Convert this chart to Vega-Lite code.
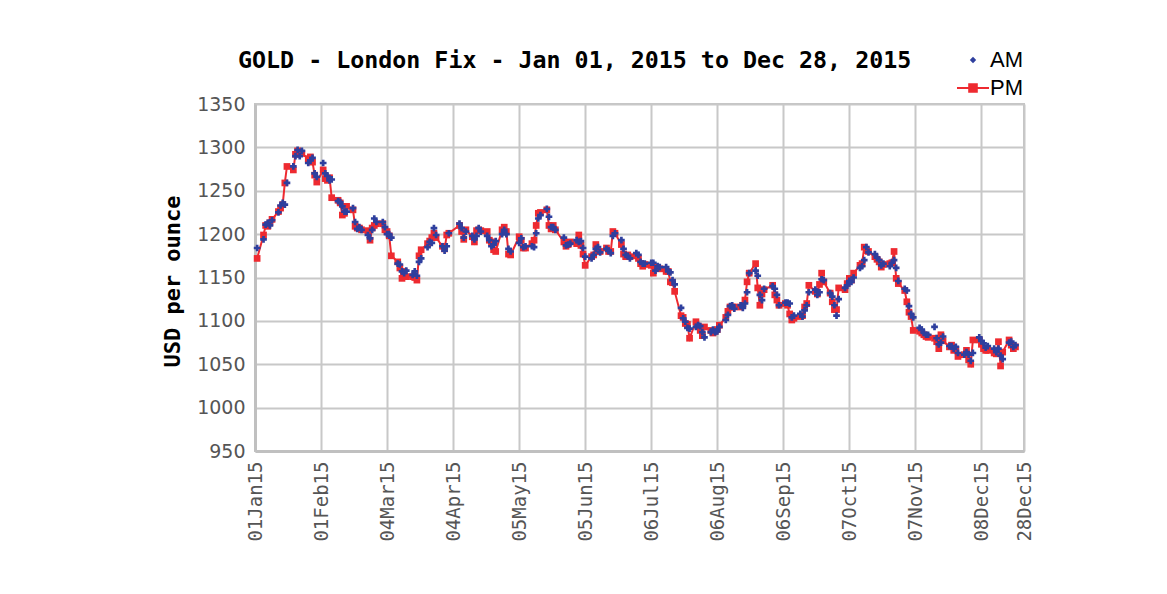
{
  "$schema": "https://vega.github.io/schema/vega-lite/v6.json",
  "width": 769,
  "height": 347,
  "autosize": {"type": "none"},
  "padding": {"left": 255, "top": 104, "right": 143, "bottom": 143},
  "background": "#ffffff",
  "title": {
    "text": "GOLD - London Fix - Jan 01, 2015 to Dec 28, 2015",
    "font": "DejaVu Sans Mono",
    "fontSize": 23.3,
    "fontWeight": "bold",
    "color": "#000000",
    "anchor": "start",
    "frame": "group",
    "dx": -17,
    "baseline": "alphabetic",
    "offset": -48
  },
  "config": {
    "view": {"stroke": "#c4c4c4", "strokeWidth": 2},
    "axis": {"gridColor": "#c8c8c8", "gridWidth": 2, "gridOpacity": 1, "domainColor": "#c0c0c0", "domainWidth": 3, "ticks": false}
  },
  "data": {
    "values": [
      {"date": "2015-01-02", "AM": 1184, "PM": 1172},
      {"date": "2015-01-05", "AM": 1194, "PM": 1199},
      {"date": "2015-01-06", "AM": 1211, "PM": 1210},
      {"date": "2015-01-07", "AM": 1213, "PM": 1209},
      {"date": "2015-01-08", "AM": 1210, "PM": 1213},
      {"date": "2015-01-09", "AM": 1216, "PM": 1217},
      {"date": "2015-01-12", "AM": 1225, "PM": 1226},
      {"date": "2015-01-13", "AM": 1233, "PM": 1230},
      {"date": "2015-01-14", "AM": 1236, "PM": 1234},
      {"date": "2015-01-15", "AM": 1234, "PM": 1259},
      {"date": "2015-01-16", "AM": 1259, "PM": 1278},
      {"date": "2015-01-19", "AM": 1278, "PM": 1274},
      {"date": "2015-01-20", "AM": 1290, "PM": 1292},
      {"date": "2015-01-21", "AM": 1297, "PM": 1296},
      {"date": "2015-01-22", "AM": 1290, "PM": 1295},
      {"date": "2015-01-23", "AM": 1296, "PM": 1293},
      {"date": "2015-01-26", "AM": 1282, "PM": 1287},
      {"date": "2015-01-27", "AM": 1285, "PM": 1289},
      {"date": "2015-01-28", "AM": 1288, "PM": 1283},
      {"date": "2015-01-29", "AM": 1270, "PM": 1268},
      {"date": "2015-01-30", "AM": 1266, "PM": 1260},
      {"date": "2015-02-02", "AM": 1282, "PM": 1274},
      {"date": "2015-02-03", "AM": 1270, "PM": 1264},
      {"date": "2015-02-04", "AM": 1267, "PM": 1262},
      {"date": "2015-02-05", "AM": 1262, "PM": 1265},
      {"date": "2015-02-06", "AM": 1263, "PM": 1242},
      {"date": "2015-02-09", "AM": 1238, "PM": 1239},
      {"date": "2015-02-10", "AM": 1237, "PM": 1236},
      {"date": "2015-02-11", "AM": 1232, "PM": 1222},
      {"date": "2015-02-12", "AM": 1226, "PM": 1224},
      {"date": "2015-02-13", "AM": 1226, "PM": 1232},
      {"date": "2015-02-16", "AM": 1230, "PM": 1228},
      {"date": "2015-02-17", "AM": 1214, "PM": 1209},
      {"date": "2015-02-18", "AM": 1206, "PM": 1207},
      {"date": "2015-02-19", "AM": 1208, "PM": 1207},
      {"date": "2015-02-20", "AM": 1205, "PM": 1205},
      {"date": "2015-02-23", "AM": 1199, "PM": 1204},
      {"date": "2015-02-24", "AM": 1195, "PM": 1193},
      {"date": "2015-02-25", "AM": 1205, "PM": 1207},
      {"date": "2015-02-26", "AM": 1218, "PM": 1210},
      {"date": "2015-02-27", "AM": 1214, "PM": 1212},
      {"date": "2015-03-02", "AM": 1214, "PM": 1212},
      {"date": "2015-03-03", "AM": 1208, "PM": 1205},
      {"date": "2015-03-04", "AM": 1200, "PM": 1203},
      {"date": "2015-03-05", "AM": 1200, "PM": 1198},
      {"date": "2015-03-06", "AM": 1196, "PM": 1175},
      {"date": "2015-03-09", "AM": 1166, "PM": 1168},
      {"date": "2015-03-10", "AM": 1165, "PM": 1161},
      {"date": "2015-03-11", "AM": 1157, "PM": 1149},
      {"date": "2015-03-12", "AM": 1155, "PM": 1157},
      {"date": "2015-03-13", "AM": 1158, "PM": 1151},
      {"date": "2015-03-16", "AM": 1153, "PM": 1151},
      {"date": "2015-03-17", "AM": 1157, "PM": 1150},
      {"date": "2015-03-18", "AM": 1152, "PM": 1147},
      {"date": "2015-03-19", "AM": 1168, "PM": 1175},
      {"date": "2015-03-20", "AM": 1172, "PM": 1182},
      {"date": "2015-03-23", "AM": 1185, "PM": 1189},
      {"date": "2015-03-24", "AM": 1191, "PM": 1192},
      {"date": "2015-03-25", "AM": 1190, "PM": 1196},
      {"date": "2015-03-26", "AM": 1207, "PM": 1201},
      {"date": "2015-03-27", "AM": 1199, "PM": 1196},
      {"date": "2015-03-30", "AM": 1186, "PM": 1186},
      {"date": "2015-03-31", "AM": 1181, "PM": 1183},
      {"date": "2015-04-01", "AM": 1186, "PM": 1199},
      {"date": "2015-04-02", "AM": 1201, "PM": 1201},
      {"date": "2015-04-07", "AM": 1212, "PM": 1210},
      {"date": "2015-04-08", "AM": 1207, "PM": 1203},
      {"date": "2015-04-09", "AM": 1196, "PM": 1194},
      {"date": "2015-04-10", "AM": 1203, "PM": 1205},
      {"date": "2015-04-13", "AM": 1198, "PM": 1197},
      {"date": "2015-04-14", "AM": 1194, "PM": 1191},
      {"date": "2015-04-15", "AM": 1198, "PM": 1204},
      {"date": "2015-04-16", "AM": 1207, "PM": 1205},
      {"date": "2015-04-17", "AM": 1203, "PM": 1204},
      {"date": "2015-04-20", "AM": 1198, "PM": 1203},
      {"date": "2015-04-21", "AM": 1193, "PM": 1193},
      {"date": "2015-04-22", "AM": 1186, "PM": 1191},
      {"date": "2015-04-23", "AM": 1188, "PM": 1182},
      {"date": "2015-04-24", "AM": 1192, "PM": 1180},
      {"date": "2015-04-27", "AM": 1200, "PM": 1205},
      {"date": "2015-04-28", "AM": 1205, "PM": 1208},
      {"date": "2015-04-29", "AM": 1200, "PM": 1203},
      {"date": "2015-04-30", "AM": 1183, "PM": 1177},
      {"date": "2015-05-01", "AM": 1180, "PM": 1176},
      {"date": "2015-05-05", "AM": 1190, "PM": 1197},
      {"date": "2015-05-06", "AM": 1195, "PM": 1193},
      {"date": "2015-05-07", "AM": 1185, "PM": 1184},
      {"date": "2015-05-08", "AM": 1186, "PM": 1184},
      {"date": "2015-05-11", "AM": 1186, "PM": 1189},
      {"date": "2015-05-12", "AM": 1185, "PM": 1193},
      {"date": "2015-05-13", "AM": 1201, "PM": 1210},
      {"date": "2015-05-14", "AM": 1218, "PM": 1224},
      {"date": "2015-05-15", "AM": 1222, "PM": 1225},
      {"date": "2015-05-18", "AM": 1229, "PM": 1228},
      {"date": "2015-05-19", "AM": 1220, "PM": 1210},
      {"date": "2015-05-20", "AM": 1208, "PM": 1206},
      {"date": "2015-05-21", "AM": 1208, "PM": 1210},
      {"date": "2015-05-22", "AM": 1205, "PM": 1205},
      {"date": "2015-05-26", "AM": 1196, "PM": 1191},
      {"date": "2015-05-27", "AM": 1187, "PM": 1186},
      {"date": "2015-05-28", "AM": 1188, "PM": 1188},
      {"date": "2015-05-29", "AM": 1189, "PM": 1191},
      {"date": "2015-06-01", "AM": 1193, "PM": 1189},
      {"date": "2015-06-02", "AM": 1191, "PM": 1199},
      {"date": "2015-06-03", "AM": 1192, "PM": 1187},
      {"date": "2015-06-04", "AM": 1184, "PM": 1177},
      {"date": "2015-06-05", "AM": 1174, "PM": 1164},
      {"date": "2015-06-08", "AM": 1172, "PM": 1174},
      {"date": "2015-06-09", "AM": 1176, "PM": 1176},
      {"date": "2015-06-10", "AM": 1183, "PM": 1188},
      {"date": "2015-06-11", "AM": 1185, "PM": 1180},
      {"date": "2015-06-12", "AM": 1179, "PM": 1180},
      {"date": "2015-06-15", "AM": 1183, "PM": 1184},
      {"date": "2015-06-16", "AM": 1181, "PM": 1180},
      {"date": "2015-06-17", "AM": 1178, "PM": 1180},
      {"date": "2015-06-18", "AM": 1198, "PM": 1203},
      {"date": "2015-06-19", "AM": 1201, "PM": 1201},
      {"date": "2015-06-22", "AM": 1193, "PM": 1188},
      {"date": "2015-06-23", "AM": 1183, "PM": 1177},
      {"date": "2015-06-24", "AM": 1176, "PM": 1174},
      {"date": "2015-06-25", "AM": 1175, "PM": 1176},
      {"date": "2015-06-26", "AM": 1172, "PM": 1174},
      {"date": "2015-06-29", "AM": 1178, "PM": 1175},
      {"date": "2015-06-30", "AM": 1176, "PM": 1172},
      {"date": "2015-07-01", "AM": 1168, "PM": 1166},
      {"date": "2015-07-02", "AM": 1166, "PM": 1163},
      {"date": "2015-07-03", "AM": 1166, "PM": 1165},
      {"date": "2015-07-06", "AM": 1167, "PM": 1164},
      {"date": "2015-07-07", "AM": 1167, "PM": 1155},
      {"date": "2015-07-08", "AM": 1158, "PM": 1162},
      {"date": "2015-07-09", "AM": 1163, "PM": 1161},
      {"date": "2015-07-10", "AM": 1162, "PM": 1160},
      {"date": "2015-07-13", "AM": 1162, "PM": 1157},
      {"date": "2015-07-14", "AM": 1157, "PM": 1157},
      {"date": "2015-07-15", "AM": 1156, "PM": 1145},
      {"date": "2015-07-16", "AM": 1147, "PM": 1144},
      {"date": "2015-07-17", "AM": 1142, "PM": 1134},
      {"date": "2015-07-20", "AM": 1115, "PM": 1106},
      {"date": "2015-07-21", "AM": 1103, "PM": 1104},
      {"date": "2015-07-22", "AM": 1099, "PM": 1097},
      {"date": "2015-07-23", "AM": 1092, "PM": 1096},
      {"date": "2015-07-24", "AM": 1091, "PM": 1080},
      {"date": "2015-07-27", "AM": 1093, "PM": 1099},
      {"date": "2015-07-28", "AM": 1095, "PM": 1094},
      {"date": "2015-07-29", "AM": 1094, "PM": 1089},
      {"date": "2015-07-30", "AM": 1087, "PM": 1083},
      {"date": "2015-07-31", "AM": 1081, "PM": 1093},
      {"date": "2015-08-03", "AM": 1087, "PM": 1089},
      {"date": "2015-08-04", "AM": 1090, "PM": 1086},
      {"date": "2015-08-05", "AM": 1087, "PM": 1088},
      {"date": "2015-08-06", "AM": 1088, "PM": 1090},
      {"date": "2015-08-07", "AM": 1093, "PM": 1095},
      {"date": "2015-08-10", "AM": 1101, "PM": 1104},
      {"date": "2015-08-11", "AM": 1107, "PM": 1111},
      {"date": "2015-08-12", "AM": 1117, "PM": 1116},
      {"date": "2015-08-13", "AM": 1118, "PM": 1116},
      {"date": "2015-08-14", "AM": 1114, "PM": 1116},
      {"date": "2015-08-17", "AM": 1118, "PM": 1116},
      {"date": "2015-08-18", "AM": 1115, "PM": 1118},
      {"date": "2015-08-19", "AM": 1120, "PM": 1124},
      {"date": "2015-08-20", "AM": 1133, "PM": 1145},
      {"date": "2015-08-21", "AM": 1155, "PM": 1155},
      {"date": "2015-08-24", "AM": 1158, "PM": 1166},
      {"date": "2015-08-25", "AM": 1152, "PM": 1138},
      {"date": "2015-08-26", "AM": 1130, "PM": 1118},
      {"date": "2015-08-27", "AM": 1124, "PM": 1131},
      {"date": "2015-08-28", "AM": 1137, "PM": 1136},
      {"date": "2015-09-01", "AM": 1140, "PM": 1141},
      {"date": "2015-09-02", "AM": 1137, "PM": 1130},
      {"date": "2015-09-03", "AM": 1130, "PM": 1124},
      {"date": "2015-09-04", "AM": 1118, "PM": 1118},
      {"date": "2015-09-07", "AM": 1121, "PM": 1120},
      {"date": "2015-09-08", "AM": 1121, "PM": 1118},
      {"date": "2015-09-09", "AM": 1120, "PM": 1108},
      {"date": "2015-09-10", "AM": 1104, "PM": 1101},
      {"date": "2015-09-11", "AM": 1106, "PM": 1103},
      {"date": "2015-09-14", "AM": 1108, "PM": 1105},
      {"date": "2015-09-15", "AM": 1105, "PM": 1106},
      {"date": "2015-09-16", "AM": 1112, "PM": 1116},
      {"date": "2015-09-17", "AM": 1118, "PM": 1120},
      {"date": "2015-09-18", "AM": 1133, "PM": 1141},
      {"date": "2015-09-21", "AM": 1136, "PM": 1134},
      {"date": "2015-09-22", "AM": 1130, "PM": 1131},
      {"date": "2015-09-23", "AM": 1133, "PM": 1142},
      {"date": "2015-09-24", "AM": 1148, "PM": 1155},
      {"date": "2015-09-25", "AM": 1147, "PM": 1145},
      {"date": "2015-09-28", "AM": 1132, "PM": 1132},
      {"date": "2015-09-29", "AM": 1128, "PM": 1122},
      {"date": "2015-09-30", "AM": 1118, "PM": 1113},
      {"date": "2015-10-01", "AM": 1106, "PM": 1113},
      {"date": "2015-10-02", "AM": 1125, "PM": 1138},
      {"date": "2015-10-05", "AM": 1138, "PM": 1136},
      {"date": "2015-10-06", "AM": 1141, "PM": 1143},
      {"date": "2015-10-07", "AM": 1146, "PM": 1149},
      {"date": "2015-10-08", "AM": 1145, "PM": 1147},
      {"date": "2015-10-09", "AM": 1150, "PM": 1155},
      {"date": "2015-10-12", "AM": 1161, "PM": 1164},
      {"date": "2015-10-13", "AM": 1163, "PM": 1166},
      {"date": "2015-10-14", "AM": 1170, "PM": 1185},
      {"date": "2015-10-15", "AM": 1185, "PM": 1181},
      {"date": "2015-10-16", "AM": 1179, "PM": 1180},
      {"date": "2015-10-19", "AM": 1177, "PM": 1174},
      {"date": "2015-10-20", "AM": 1173, "PM": 1171},
      {"date": "2015-10-21", "AM": 1170, "PM": 1168},
      {"date": "2015-10-22", "AM": 1164, "PM": 1162},
      {"date": "2015-10-23", "AM": 1166, "PM": 1165},
      {"date": "2015-10-26", "AM": 1163, "PM": 1166},
      {"date": "2015-10-27", "AM": 1167, "PM": 1167},
      {"date": "2015-10-28", "AM": 1170, "PM": 1180},
      {"date": "2015-10-29", "AM": 1161, "PM": 1149},
      {"date": "2015-10-30", "AM": 1146, "PM": 1143},
      {"date": "2015-11-02", "AM": 1137, "PM": 1135},
      {"date": "2015-11-03", "AM": 1135, "PM": 1122},
      {"date": "2015-11-04", "AM": 1117, "PM": 1110},
      {"date": "2015-11-05", "AM": 1108, "PM": 1105},
      {"date": "2015-11-06", "AM": 1104, "PM": 1089},
      {"date": "2015-11-09", "AM": 1092, "PM": 1088},
      {"date": "2015-11-10", "AM": 1090, "PM": 1086},
      {"date": "2015-11-11", "AM": 1086, "PM": 1084},
      {"date": "2015-11-12", "AM": 1084, "PM": 1082},
      {"date": "2015-11-13", "AM": 1084, "PM": 1081},
      {"date": "2015-11-16", "AM": 1093, "PM": 1080},
      {"date": "2015-11-17", "AM": 1080, "PM": 1076},
      {"date": "2015-11-18", "AM": 1073, "PM": 1068},
      {"date": "2015-11-19", "AM": 1075, "PM": 1084},
      {"date": "2015-11-20", "AM": 1082, "PM": 1077},
      {"date": "2015-11-23", "AM": 1071, "PM": 1070},
      {"date": "2015-11-24", "AM": 1071, "PM": 1072},
      {"date": "2015-11-25", "AM": 1068, "PM": 1066},
      {"date": "2015-11-26", "AM": 1070, "PM": 1067},
      {"date": "2015-11-27", "AM": 1063, "PM": 1059},
      {"date": "2015-11-30", "AM": 1061, "PM": 1061},
      {"date": "2015-12-01", "AM": 1064, "PM": 1066},
      {"date": "2015-12-02", "AM": 1061, "PM": 1055},
      {"date": "2015-12-03", "AM": 1054, "PM": 1050},
      {"date": "2015-12-04", "AM": 1063, "PM": 1078},
      {"date": "2015-12-07", "AM": 1081, "PM": 1078},
      {"date": "2015-12-08", "AM": 1077, "PM": 1073},
      {"date": "2015-12-09", "AM": 1074, "PM": 1068},
      {"date": "2015-12-10", "AM": 1069, "PM": 1066},
      {"date": "2015-12-11", "AM": 1071, "PM": 1066},
      {"date": "2015-12-14", "AM": 1068, "PM": 1063},
      {"date": "2015-12-15", "AM": 1064, "PM": 1062},
      {"date": "2015-12-16", "AM": 1068, "PM": 1076},
      {"date": "2015-12-17", "AM": 1060, "PM": 1048},
      {"date": "2015-12-18", "AM": 1056, "PM": 1064},
      {"date": "2015-12-21", "AM": 1075, "PM": 1078},
      {"date": "2015-12-22", "AM": 1076, "PM": 1072},
      {"date": "2015-12-23", "AM": 1070, "PM": 1068},
      {"date": "2015-12-24", "AM": 1072, "PM": 1070}
    ]
  },
  "transform": [{"fold": ["AM", "PM"], "as": ["series", "price"]}],
  "encoding": {
    "x": {
      "field": "date",
      "type": "temporal",
      "scale": {
        "type": "utc",
        "domain": [
          {"year": 2015, "month": 1, "date": 1, "utc": true},
          {"year": 2015, "month": 12, "date": 28, "utc": true}
        ]
      },
      "axis": {
        "title": null,
        "values": [
          {"year": 2015, "month": 1, "date": 1, "utc": true},
          {"year": 2015, "month": 2, "date": 1, "utc": true},
          {"year": 2015, "month": 3, "date": 4, "utc": true},
          {"year": 2015, "month": 4, "date": 4, "utc": true},
          {"year": 2015, "month": 5, "date": 5, "utc": true},
          {"year": 2015, "month": 6, "date": 5, "utc": true},
          {"year": 2015, "month": 7, "date": 6, "utc": true},
          {"year": 2015, "month": 8, "date": 6, "utc": true},
          {"year": 2015, "month": 9, "date": 6, "utc": true},
          {"year": 2015, "month": 10, "date": 7, "utc": true},
          {"year": 2015, "month": 11, "date": 7, "utc": true},
          {"year": 2015, "month": 12, "date": 8, "utc": true},
          {"year": 2015, "month": 12, "date": 28, "utc": true}
        ],
        "format": "%d%b%y",
        "labelAngle": 270,
        "labelAlign": "right",
        "labelBaseline": "middle",
        "labelFont": "DejaVu Sans Mono",
        "labelFontSize": 19,
        "labelColor": "#555555",
        "labelPadding": 10,
        "labelFlush": false,
        "labelOverlap": false
      }
    },
    "y": {
      "field": "price",
      "type": "quantitative",
      "scale": {"domain": [950, 1350], "zero": false, "nice": false},
      "axis": {
        "title": "USD per ounce",
        "values": [950, 1000, 1050, 1100, 1150, 1200, 1250, 1300, 1350],
        "format": "d",
        "labelFont": "DejaVu Sans",
        "labelFontSize": 19,
        "labelColor": "#555555",
        "labelPadding": 10,
        "titleFont": "DejaVu Sans Mono",
        "titleFontSize": 22,
        "titleFontWeight": "bold",
        "titleColor": "#000000",
        "titlePadding": 12,
        "titleY": 177
      }
    }
  },
  "layer": [
    {
      "transform": [{"filter": "datum.series === 'PM'"}],
      "mark": {"type": "line", "color": "#ee2a30", "strokeWidth": 2}
    },
    {
      "transform": [{"filter": "datum.series === 'PM'"}],
      "mark": {"type": "point", "shape": "square", "filled": true, "size": 45, "opacity": 1, "color": "#ee2a30"}
    },
    {
      "transform": [{"filter": "datum.series === 'AM'"}],
      "mark": {"type": "point", "shape": "cross", "filled": true, "size": 45, "opacity": 1, "color": "#2e3f9e"}
    },
    {
      "transform": [{"filter": "datum.date === '2015-01-02'"}],
      "mark": {"type": "point", "filled": true, "size": 0, "opacity": 1},
      "encoding": {
        "color": {
          "field": "series",
          "type": "nominal",
          "scale": {"domain": ["AM", "PM"], "range": ["#2e3f9e", "#ee2a30"]},
          "legend": {
            "title": null,
            "orient": "none",
            "legendX": 701,
            "legendY": -61,
            "symbolSize": 1024,
            "symbolOpacity": 1,
            "labelFont": "Liberation Sans",
            "labelFontSize": 22,
            "labelColor": "#000000",
            "labelOffset": 0,
            "rowPadding": -4
          }
        },
        "shape": {
          "field": "series",
          "type": "nominal",
          "scale": {
            "domain": ["AM", "PM"],
            "range": [
              "M0,-0.2L0.2,0L0,0.2L-0.2,0Z",
              "M-1,-0.065H1V0.065H-1Z M-0.3,-0.3H0.3V0.3H-0.3Z"
            ]
          }
        }
      }
    }
  ]
}
